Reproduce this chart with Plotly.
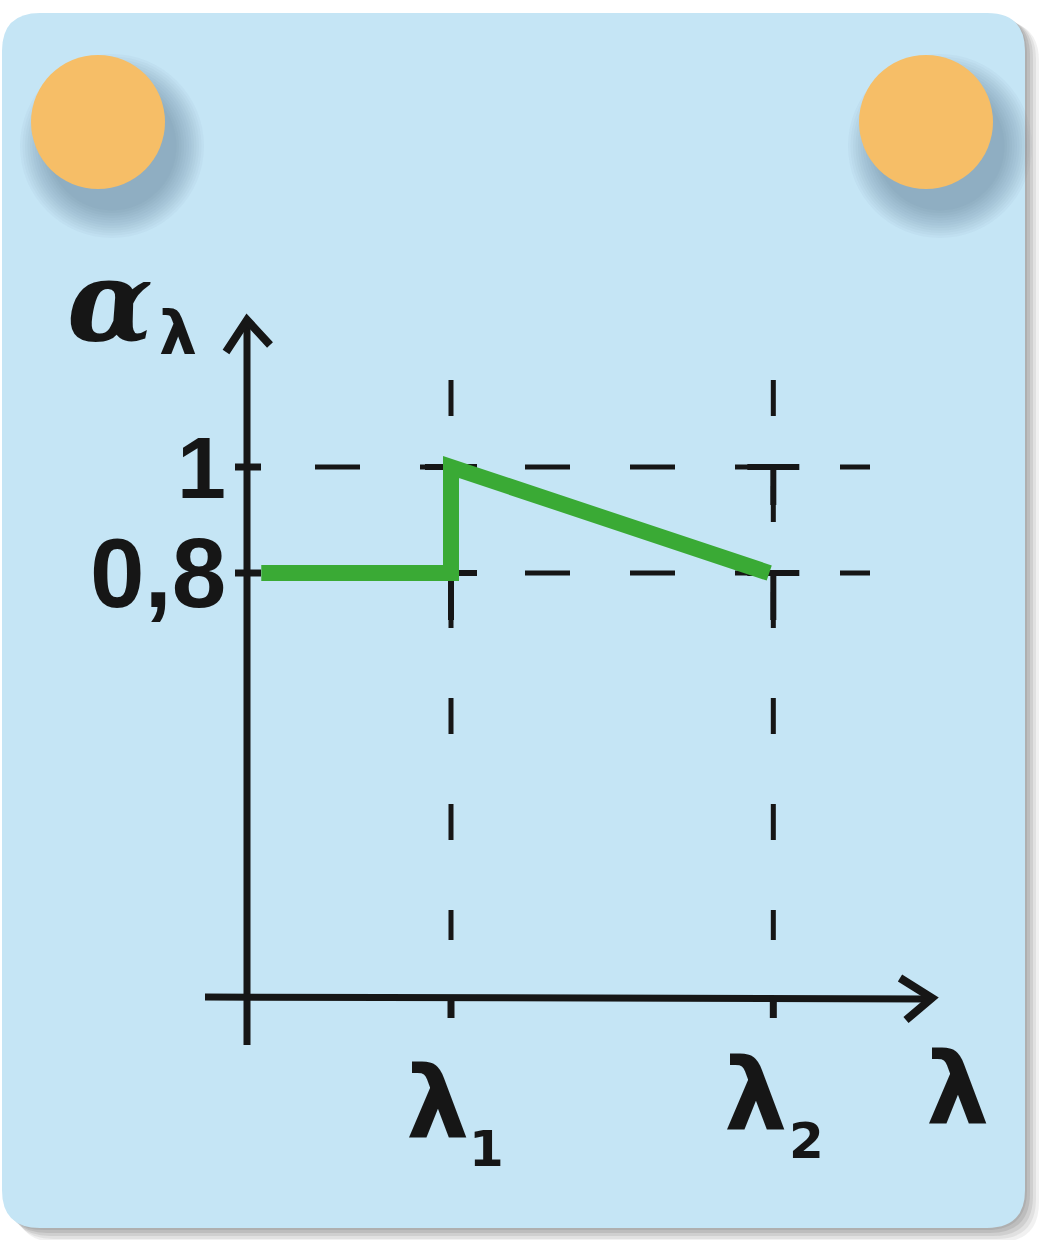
import plotly.graph_objects as go

W, H = 1039, 1240

# ---- data ----
lam_ticks = [1.0, 2.58]            # λ1, λ2 positions
lam_tick_labels = ["λ", "λ"]
lam_tick_subs = ["1", "2"]
alpha_ticks = [1.0, 0.8]
alpha_tick_labels = ["1", "0,8"]
curve_lam = [0.07, 1.0, 1.0, 2.56]
curve_alpha = [0.8, 0.8, 1.0, 0.8]

# axis mapping (data -> pixels): x_px = 247 + 204*lam ; y_px = 997 - 530*alpha
X0, XS = 247.0, 204.0
Y0, YS = 997.0, 530.0
xr = [(0 - X0) / XS, (W - X0) / XS]
yr = [(Y0 - H) / YS, (Y0 - 0) / YS]

def lx(px):
    return (px - X0) / XS

def ay(py):
    return (Y0 - py) / YS

def px2paper(x, y):
    return x / W, 1 - y / H

def rrect(x0, y0, x1, y1, r):
    def P(x, y):
        a, b = px2paper(x, y)
        return f"{a:.5f},{b:.5f}"
    return (f"M {P(x0+r,y0)} L {P(x1-r,y0)} Q {P(x1,y0)} {P(x1,y0+r)} "
            f"L {P(x1,y1-r)} Q {P(x1,y1)} {P(x1-r,y1)} L {P(x0+r,y1)} "
            f"Q {P(x0,y1)} {P(x0,y1-r)} L {P(x0,y0+r)} Q {P(x0,y0)} {P(x0+r,y0)} Z")

shapes = []
# card shadow layers (to the right / bottom)
for dx, op in [(14, 0.10), (11, 0.13), (8, 0.16), (5, 0.2), (2, 0.2)]:
    shapes.append(dict(type="path", xref="paper", yref="paper", layer="below",
                       path=rrect(2 + dx, 13 + dx * 0.6, 1025 + dx, 1228 + dx, 40),
                       fillcolor=f"rgba(120,120,120,{op})", line=dict(width=0)))
shapes.append(dict(type="path", xref="paper", yref="paper", layer="below",
                   path=rrect(2, 13, 1025, 1228, 38),
                   fillcolor="#C5E5F5", line=dict(width=0)))

# pins with soft shadows
def circ(cx, cy, r, color):
    a0, b1 = px2paper(cx - r, cy - r)
    a1, b0 = px2paper(cx + r, cy + r)
    return dict(type="circle", xref="paper", yref="paper", layer="below",
                x0=a0, x1=a1, y0=b0, y1=b1, fillcolor=color, line=dict(width=0))

for cx, cy in [(98, 122), (926, 122)]:
    for k in range(12):
        shapes.append(circ(cx + 14, cy + 24, 92 - k * 2.5, "rgba(60,90,110,0.035)"))
    shapes.append(circ(cx, cy, 67, "#F6BE67"))

fig = go.Figure()
black = "#161616"

def seg(xs, ys, width, dash=None, color=black):
    fig.add_trace(go.Scatter(x=xs, y=ys, mode="lines",
                             line=dict(color=color, width=width, dash=dash),
                             hoverinfo="skip", showlegend=False))

# dashed guides (horizontal)
for a, start in zip(alpha_ticks, [315, 420]):
    seg([lx(start), lx(870)], [a, a], 5, dash="45px,60px")
# dashed guides (vertical)
for l in lam_ticks:
    seg([l, l], [ay(380), ay(940)], 5, dash="36px,70px")
# crossings at the guide intersections
for l in lam_ticks:
    for a in alpha_ticks:
        seg([l - 26 / XS, l + 26 / XS], [a, a], 6)
    seg([l, l], [0.8, ay(620)], 6)
    seg([l, l], [1.0, ay(505)], 6)

# green curve
seg(curve_lam, curve_alpha, 16, color="#3AAA35")

# axes
seg([0, 0], [ay(1045), ay(322)], 7)
seg([lx(205), lx(930)], [0, ay(999)], 7)
# arrow heads
seg([lx(226), 0, lx(270)], [ay(352), ay(320), ay(345)], 8)
seg([lx(900), lx(932), lx(906)], [ay(978), ay(998), ay(1020)], 8)
# tick marks on axes
for l in lam_ticks:
    seg([l, l], [0, ay(1018)], 7)
for a in alpha_ticks:
    seg([lx(235), lx(261)], [a, a], 7)

ann = []
# y tick labels
for a, t, sz in zip(alpha_ticks, alpha_tick_labels, [88, 98]):
    ann.append(dict(x=lx(228), y=a, text=f"<b>{t}</b>", xanchor="right", yanchor="middle",
                    showarrow=False, font=dict(family="Liberation Sans", size=sz, color=black)))
# x tick labels
for l, t, s, off in zip(lam_ticks, lam_tick_labels, lam_tick_subs,
                        [(437, 1102, 486, 1149), (755, 1094, 806, 1141)]):
    ann.append(dict(x=lx(off[0]), y=ay(off[1]), text=f"<b>{t}</b>", xanchor="center", yanchor="middle",
                    showarrow=False, font=dict(family="DejaVu Sans", size=100, color=black)))
    ann.append(dict(x=lx(off[2]), y=ay(off[3]), text=f"<b>{s}</b>", xanchor="center", yanchor="middle",
                    showarrow=False, font=dict(family="DejaVu Sans", size=50, color=black)))
# axis titles
ann.append(dict(x=lx(957), y=ay(1088), text="<b>λ</b>", showarrow=False,
                font=dict(family="DejaVu Sans", size=100, color=black)))
ann.append(dict(x=lx(110), y=ay(300), text="<b><i>α</i></b>", showarrow=False,
                font=dict(family="DejaVu Serif", size=112, color=black)))
ann.append(dict(x=lx(178), y=ay(333), text="<b>λ</b>", showarrow=False,
                font=dict(family="DejaVu Sans", size=60, color=black)))

fig.update_layout(
    width=W, height=H, autosize=False,
    margin=dict(l=0, r=0, t=0, b=0, pad=0),
    paper_bgcolor="white", plot_bgcolor="rgba(0,0,0,0)",
    xaxis=dict(range=xr, visible=False, fixedrange=True),
    yaxis=dict(range=yr, visible=False, fixedrange=True),
    shapes=shapes, annotations=ann, showlegend=False,
)
fig.write_html("out.html", config={"displayModeBar": False},
               post_script="document.body.style.margin='0';")
